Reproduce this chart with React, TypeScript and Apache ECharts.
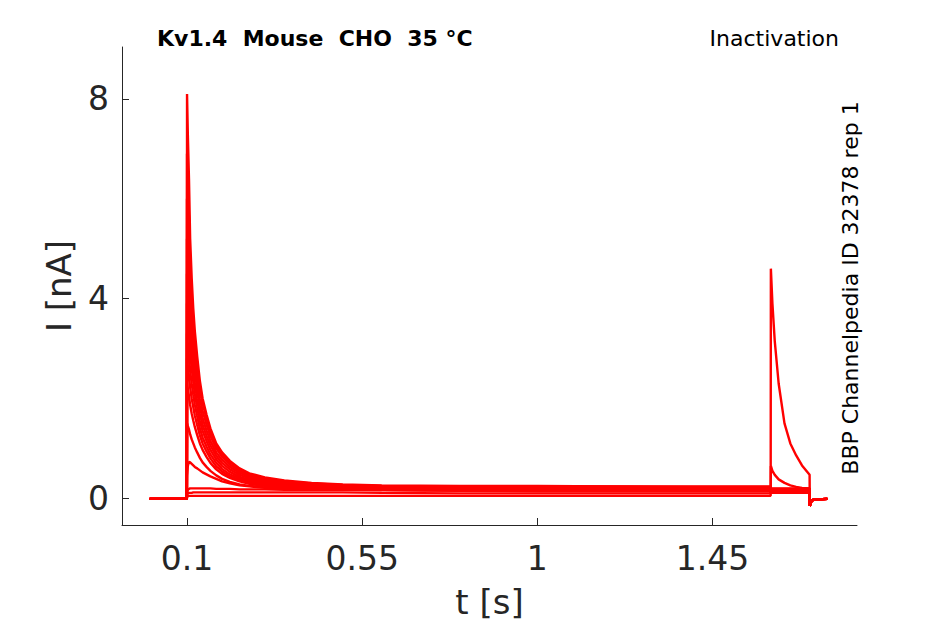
import React, { useEffect, useRef } from "react";
import * as echarts from "echarts";

// ---- time bases (s) ----
const tPre = [0.004, 0.0995, 0.1, 0.102, 0.105, 0.108, 0.112, 0.116, 0.12, 0.126, 0.133, 0.14, 0.15, 0.16, 0.175, 0.19, 0.21, 0.235, 0.26, 0.3, 0.35, 0.42, 0.5];
const tHold = [0.6, 0.8, 1.0, 1.2, 1.4, 1.5995];
const tTest = [1.6, 1.604, 1.61, 1.62, 1.635, 1.65, 1.665, 1.68, 1.6995];
const tTail = [1.7, 1.703, 1.708, 1.72, 1.745];

// ---- currents (nA) ----
const iBase = [-0.01, -0.01];

const iPre = [
  [8.1, 7.3, 6.4, 5.2, 4.4, 3.8, 3.35, 2.85, 2.35, 2.0, 1.68, 1.4, 1.1, 0.92, 0.75, 0.6, 0.5, 0.42, 0.36, 0.31, 0.28],
  [6.9, 6.3, 5.6, 4.7, 4.0, 3.5, 3.1, 2.65, 2.2, 1.9, 1.6, 1.34, 1.06, 0.88, 0.72, 0.58, 0.48, 0.4, 0.34, 0.3, 0.27],
  [6.0, 5.5, 4.9, 4.2, 3.6, 3.15, 2.8, 2.4, 2.0, 1.75, 1.48, 1.25, 1.0, 0.83, 0.68, 0.55, 0.46, 0.38, 0.33, 0.29, 0.26],
  [5.2, 4.8, 4.3, 3.7, 3.2, 2.85, 2.55, 2.2, 1.85, 1.6, 1.36, 1.15, 0.92, 0.77, 0.63, 0.51, 0.43, 0.36, 0.31, 0.27, 0.25],
  [4.5, 4.2, 3.8, 3.3, 2.9, 2.6, 2.3, 2.0, 1.7, 1.47, 1.25, 1.06, 0.85, 0.71, 0.58, 0.47, 0.4, 0.34, 0.29, 0.26, 0.24],
  [3.9, 3.65, 3.35, 2.95, 2.6, 2.35, 2.1, 1.83, 1.55, 1.35, 1.15, 0.97, 0.78, 0.65, 0.53, 0.43, 0.37, 0.31, 0.27, 0.24, 0.22],
  [3.3, 3.1, 2.85, 2.55, 2.3, 2.08, 1.88, 1.65, 1.4, 1.22, 1.04, 0.88, 0.71, 0.59, 0.48, 0.4, 0.34, 0.29, 0.25, 0.23, 0.21],
  [2.8, 2.65, 2.45, 2.22, 2.0, 1.83, 1.66, 1.47, 1.26, 1.1, 0.94, 0.8, 0.64, 0.54, 0.44, 0.37, 0.31, 0.27, 0.24, 0.22, 0.2],
  [2.3, 2.2, 2.05, 1.87, 1.7, 1.56, 1.43, 1.27, 1.1, 0.97, 0.83, 0.71, 0.58, 0.49, 0.41, 0.34, 0.29, 0.25, 0.23, 0.21, 0.19],
  [1.5, 1.45, 1.38, 1.28, 1.18, 1.1, 1.02, 0.92, 0.81, 0.72, 0.63, 0.55, 0.46, 0.39, 0.33, 0.28, 0.25, 0.22, 0.2, 0.19, 0.18],
  [0.45, 0.65, 0.73, 0.72, 0.69, 0.66, 0.63, 0.6, 0.56, 0.52, 0.48, 0.44, 0.39, 0.34, 0.3, 0.26, 0.24, 0.21, 0.2, 0.19, 0.18],
  [0.12, 0.17, 0.19, 0.2, 0.2, 0.2, 0.2, 0.2, 0.2, 0.2, 0.2, 0.2, 0.19, 0.19, 0.19, 0.18, 0.18, 0.18, 0.17, 0.17, 0.17],
  [0.08, 0.1, 0.11, 0.11, 0.11, 0.12, 0.12, 0.12, 0.12, 0.12, 0.12, 0.12, 0.12, 0.12, 0.12, 0.12, 0.12, 0.12, 0.12, 0.12, 0.12],
  [0.05, 0.05, 0.05, 0.05, 0.05, 0.05, 0.05, 0.05, 0.05, 0.05, 0.05, 0.05, 0.05, 0.05, 0.05, 0.05, 0.05, 0.05, 0.05, 0.05, 0.05],
];

const iHold = [
  [0.26, 0.25, 0.25, 0.24, 0.24, 0.24],
  [0.25, 0.24, 0.24, 0.24, 0.23, 0.23],
  [0.24, 0.23, 0.23, 0.23, 0.22, 0.22],
  [0.23, 0.22, 0.22, 0.22, 0.22, 0.21],
  [0.22, 0.21, 0.21, 0.21, 0.21, 0.2],
  [0.21, 0.2, 0.2, 0.2, 0.2, 0.2],
  [0.2, 0.19, 0.19, 0.19, 0.19, 0.19],
  [0.19, 0.18, 0.18, 0.18, 0.18, 0.18],
  [0.18, 0.17, 0.17, 0.17, 0.17, 0.17],
  [0.17, 0.16, 0.16, 0.16, 0.16, 0.16],
  [0.17, 0.16, 0.15, 0.15, 0.15, 0.15],
  [0.16, 0.15, 0.14, 0.14, 0.14, 0.14],
  [0.11, 0.1, 0.1, 0.1, 0.1, 0.1],
  [0.05, 0.05, 0.05, 0.05, 0.05, 0.05],
];

const iTest = [
  [0.2, 0.2, 0.2, 0.2, 0.2, 0.2, 0.2, 0.2, 0.2],
  [0.19, 0.19, 0.19, 0.19, 0.19, 0.19, 0.19, 0.19, 0.19],
  [0.18, 0.18, 0.18, 0.18, 0.18, 0.18, 0.18, 0.18, 0.18],
  [0.18, 0.18, 0.17, 0.17, 0.17, 0.17, 0.17, 0.17, 0.17],
  [0.17, 0.17, 0.17, 0.17, 0.17, 0.17, 0.17, 0.17, 0.17],
  [0.16, 0.16, 0.16, 0.16, 0.16, 0.16, 0.16, 0.16, 0.16],
  [0.16, 0.16, 0.15, 0.15, 0.15, 0.15, 0.15, 0.15, 0.15],
  [0.15, 0.15, 0.15, 0.15, 0.15, 0.15, 0.15, 0.15, 0.15],
  [0.14, 0.14, 0.14, 0.14, 0.14, 0.14, 0.14, 0.14, 0.14],
  [0.13, 0.13, 0.13, 0.13, 0.13, 0.13, 0.13, 0.13, 0.13],
  [0.12, 0.12, 0.12, 0.12, 0.12, 0.12, 0.12, 0.12, 0.12],
  [0.11, 0.11, 0.11, 0.11, 0.11, 0.11, 0.11, 0.11, 0.11],
  [0.65, 0.55, 0.47, 0.38, 0.31, 0.26, 0.23, 0.21, 0.2],
  [4.6, 3.9, 3.15, 2.3, 1.5, 1.1, 0.86, 0.66, 0.47],
];

const iTail = [-0.15, -0.07, -0.03, -0.02, -0.01];

// ---- axis ticks ----
const xTicks = [0.1, 0.55, 1, 1.45];
const yTicks = [0, 4, 8];

const titleText = "Kv1.4  Mouse  CHO  35 °C";
const protocolText = "Inactivation";
const sourceText = "BBP Channelpedia ID 32378 rep 1";

const FONT = "DejaVu Sans";
const AXIS_COLOR = "#262626";

function sweepData(k: number): number[][] {
  const pts: number[][] = [];
  tPre.forEach((t, j) => pts.push([t, j < 2 ? iBase[j] : iPre[k][j - 2]]));
  tHold.forEach((t, j) => pts.push([t, iHold[k][j]]));
  tTest.forEach((t, j) => pts.push([t, iTest[k][j]]));
  tTail.forEach((t, j) => pts.push([t, iTail[j]]));
  return pts;
}

export default function App() {
  const ref = useRef<HTMLDivElement>(null);
  useEffect(() => {
    if (!ref.current) return;
    const chart = echarts.init(ref.current, null, { renderer: "svg" });
    const series = iPre.map((_, k) => ({
      type: "line",
      data: sweepData(k),
      showSymbol: false,
      symbol: "none",
      lineStyle: { color: "#ff0000", width: 2.4 },
      silent: true,
    }));
    chart.setOption({
      animation: false,
      backgroundColor: "#ffffff",
      grid: { left: 122, right: 88, top: 47, bottom: 97, containLabel: false },
      xAxis: {
        type: "value",
        min: -0.0671,
        max: 1.8213,
        name: "t [s]",
        nameLocation: "middle",
        nameGap: 60,
        nameTextStyle: { fontFamily: FONT, fontSize: 34, color: AXIS_COLOR },
        axisLine: { show: true, onZero: false, lineStyle: { color: AXIS_COLOR, width: 1 } },
        axisTick: { show: true, inside: true, length: 7, customValues: xTicks, lineStyle: { color: AXIS_COLOR, width: 1 } },
        axisLabel: { customValues: xTicks, margin: 17, fontFamily: FONT, fontSize: 33, color: AXIS_COLOR, formatter: (v: number) => String(v) },
        splitLine: { show: false },
      },
      yAxis: {
        type: "value",
        min: -0.534,
        max: 9.04,
        name: "I [nA]",
        nameLocation: "middle",
        nameGap: 46,
        nameTextStyle: { fontFamily: FONT, fontSize: 34, color: AXIS_COLOR },
        axisLine: { show: true, onZero: false, lineStyle: { color: AXIS_COLOR, width: 1 } },
        axisTick: { show: true, inside: true, length: 7, customValues: yTicks, lineStyle: { color: AXIS_COLOR, width: 1 } },
        axisLabel: { customValues: yTicks, margin: 13, fontFamily: FONT, fontSize: 33, color: AXIS_COLOR, formatter: (v: number) => String(v) },
        splitLine: { show: false },
      },
      graphic: [
        {
          type: "text",
          left: 157,
          top: 27,
          style: { text: titleText, font: `bold 22px '${FONT}'`, fill: "#000000" },
        },
        {
          type: "text",
          right: 945 - 839,
          top: 27,
          style: { text: protocolText, font: `22px '${FONT}'`, fill: "#000000" },
        },
        {
          type: "text",
          x: 850,
          y: 288,
          rotation: Math.PI / 2,
          style: { text: sourceText, font: `22px '${FONT}'`, fill: "#000000", textAlign: "center", textVerticalAlign: "middle" },
        },
      ],
      series,
    });
    return () => chart.dispose();
  }, []);
  return (
    <div
      ref={ref}
      style={{ position: "fixed", left: 0, top: 0, width: 945, height: 624, background: "#fff" }}
    />
  );
}
